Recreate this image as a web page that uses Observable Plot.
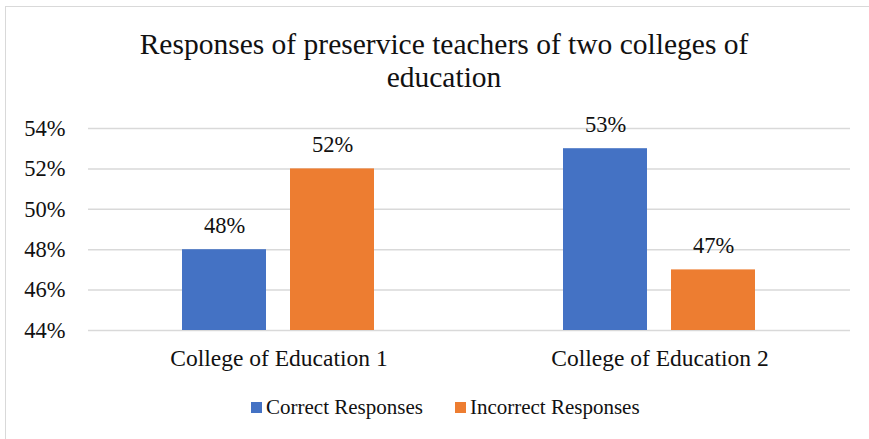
<!DOCTYPE html>
<html>
<head>
<meta charset="utf-8">
<script src="https://cdn.jsdelivr.net/npm/d3@7"></script>
<script src="https://cdn.jsdelivr.net/npm/@observablehq/plot@0.6"></script>
<style>
  html, body { margin: 0; padding: 0; background: #fff; }
  body { width: 869px; height: 439px; overflow: hidden; position: relative; font-family: 'Liberation Serif', 'Times New Roman', serif; color: #111; }
  #frame { position: absolute; left: 5px; top: 6px; width: 900px; height: 480px; border-left: 1.5px solid #d9d9d9; border-top: 1.5px solid #d9d9d9; }
  #title { position: absolute; left: 0; top: 28px; width: 888px; text-align: center; font-size: 29.5px; line-height: 33px; }
  #chart { position: absolute; left: 0; top: 100px; }
  #legend { position: absolute; left: 251px; top: 395px; display: flex; gap: 32px; font-size: 21px; }
  .item { display: flex; align-items: center; }
  .sw { width: 11px; height: 11px; margin-right: 4px; }
</style>
</head>
<body>
<div id="frame"></div>
<div id="title">Responses of preservice teachers of two colleges of<br>education</div>
<div id="chart"></div>
<div id="legend"></div>
<script>
const colleges = ["College of Education 1", "College of Education 2"];
const seriesNames = ["Correct Responses", "Incorrect Responses"];
const correct = [0.48, 0.53];
const incorrect = [0.52, 0.47];
const colors = ["#4472C4", "#ED7D31"];
const yTicks = [0.44, 0.46, 0.48, 0.50, 0.52, 0.54];
const baseline = 0.44;
const FONT = "'Liberation Serif', 'Times New Roman', serif";

const data = [];
colleges.forEach((c, i) => {
  data.push({college: c, series: seriesNames[0], value: correct[i]});
  data.push({college: c, series: seriesNames[1], value: incorrect[i]});
});

const pct = d3.format(".0%");

const plot = Plot.plot({
  width: 869,
  height: 280,
  marginLeft: 88,
  marginRight: 19,
  marginTop: 28,
  marginBottom: 50,
  style: {fontFamily: FONT, color: "#111", background: "transparent"},
  fx: {domain: colleges, padding: 0, label: null},
  x: {domain: seriesNames, paddingInner: 0.22, paddingOuter: 0.858, axis: null},
  y: {domain: [0.44, 0.54], ticks: yTicks, tickFormat: pct, label: null},
  color: {domain: seriesNames, range: colors},
  marks: [
    Plot.gridY(yTicks, {stroke: "#d9d9d9", strokeOpacity: 1, strokeWidth: 1.5}),
    Plot.axisY({ticks: yTicks, tickSize: 0, tickPadding: 23, fontSize: 22.5, label: null, tickFormat: pct}),
    Plot.axisFx({anchor: "bottom", tickSize: 0, tickPadding: 19, fontSize: 23.5, label: null}),
    Plot.barY(data, {fx: "college", x: "series", y1: baseline, y2: "value", fill: "series"}),
    Plot.text(data, {fx: "college", x: "series", y: "value", text: d => pct(d.value), dy: -24, fontSize: 22.5, fill: "#111"})
  ]
});
document.getElementById("chart").appendChild(plot);

const legend = document.getElementById("legend");
seriesNames.forEach((s, i) => {
  const it = document.createElement("div");
  it.className = "item";
  const sw = document.createElement("div");
  sw.className = "sw";
  sw.style.background = colors[i];
  const lab = document.createElement("span");
  lab.textContent = s;
  it.appendChild(sw);
  it.appendChild(lab);
  legend.appendChild(it);
});
</script>
</body>
</html>
